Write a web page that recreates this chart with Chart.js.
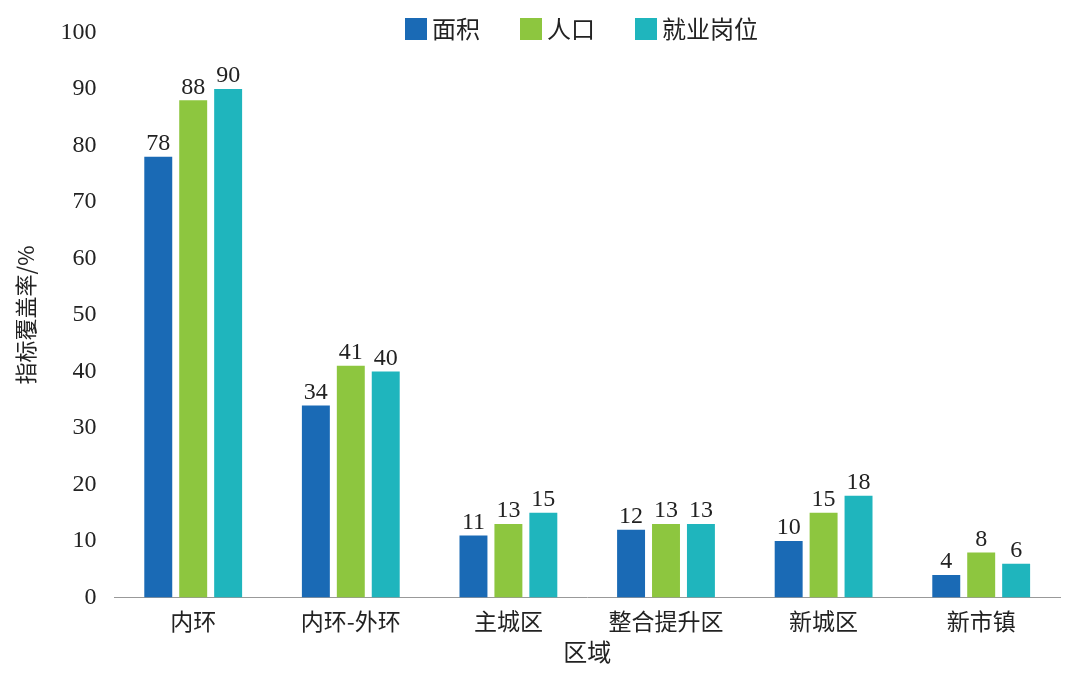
<!DOCTYPE html>
<html><head><meta charset="utf-8">
<script src="https://cdn.jsdelivr.net/npm/chart.js@4"></script>
<style>html,body{margin:0;padding:0;background:#fff}#w{width:1080px;height:678px}</style>
</head><body><div id="w"><canvas id="c"></canvas></div>
<script>
const categories=["内环","内环-外环","主城区","整合提升区","新城区","新市镇"];
const area=[78,34,11,12,10,4];
const population=[88,41,13,13,15,8];
const jobs=[90,40,15,13,18,6];
const seriesNames=["面积","人口","就业岗位"];
const colors=['#1a6ab5','#8dc63f','#1fb5bd'];
const labelPlugin={id:'lbl',afterDatasetsDraw(ch){const c=ch.ctx;c.save();c.font='24px "Liberation Serif"';c.fillStyle='#222';c.textAlign='center';c.textBaseline='bottom';
ch.data.datasets.forEach((d,i)=>{ch.getDatasetMeta(i).data.forEach((b,j)=>{c.fillText(d.data[j],b.x,b.y-1);});});
c.font='24px "Noto Sans CJK SC"';c.textAlign='left';c.textBaseline='middle';
const xs=[405,520,635];
seriesNames.forEach((n,i)=>{c.fillStyle=colors[i];c.fillRect(xs[i],18,22,22);c.fillStyle='#222';c.fillText(n,xs[i]+27,29);});
c.restore();}};
new Chart(document.getElementById('c'),{type:'bar',
data:{labels:categories,datasets:seriesNames.map((n,i)=>({label:n,data:[area,population,jobs][i],backgroundColor:colors[i]}))},
options:{responsive:true,maintainAspectRatio:false,animation:false,
layout:{padding:{top:18,right:20,left:8,bottom:8}},
datasets:{bar:{categoryPercentage:0.665,barPercentage:0.8}},
plugins:{legend:{display:false},tooltip:{enabled:false}},
scales:{
x:{grid:{display:false,drawTicks:false},border:{color:'#999'},ticks:{font:{family:'"Noto Sans CJK SC"',size:23},color:'#222',padding:10},
 title:{display:true,text:'区域',font:{family:'"Noto Sans CJK SC"',size:24},color:'#222',padding:{top:-8}}},
y:{min:0,max:100,ticks:{stepSize:10,font:{family:'"Liberation Serif"',size:24},color:'#222',padding:18},grid:{display:false,drawTicks:false},border:{display:false},
 title:{display:true,text:'指标覆盖率/%',font:{family:'"Noto Sans CJK SC"',size:22},color:'#222'}}}},
plugins:[labelPlugin]});
</script></body></html>
